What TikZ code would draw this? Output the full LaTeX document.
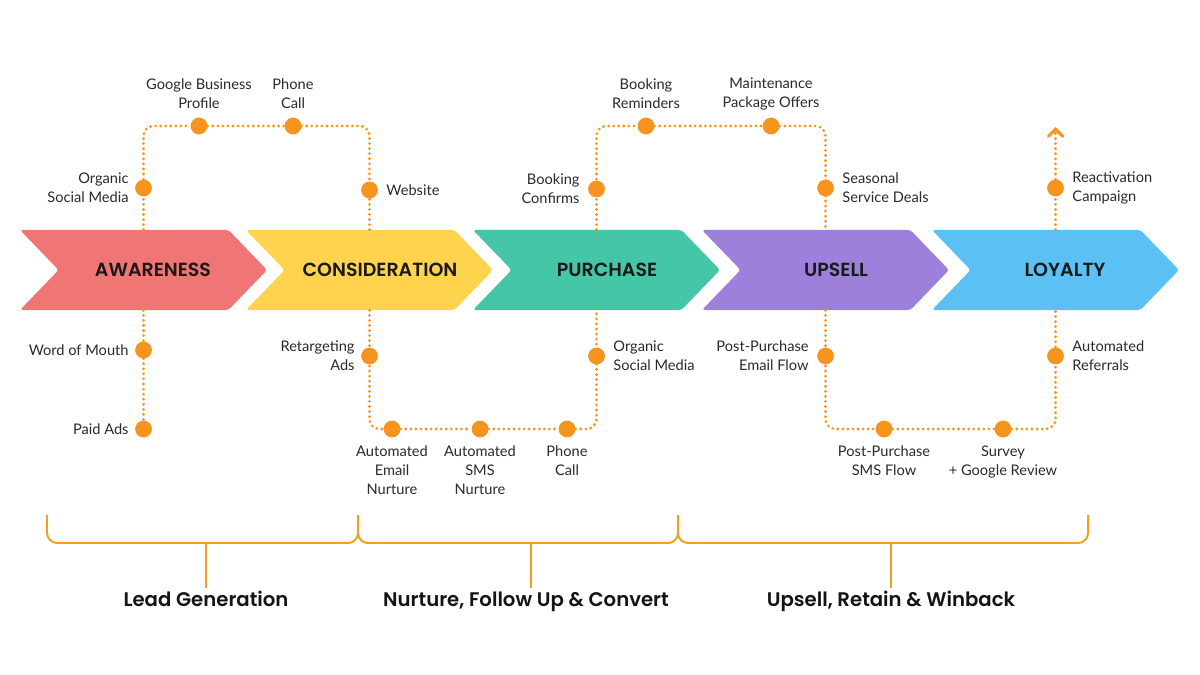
\documentclass[tikz,border=0pt]{standalone}
\usepackage{fontspec}
\setmainfont{Lato}
\newfontfamily\headfont{Poppins}[BoldFont={Poppins SemiBold}]
\usetikzlibrary{positioning}
\usetikzlibrary{shapes,arrows}

\definecolor{awarecol}{HTML}{F07575}
\definecolor{considcol}{HTML}{FFD34E}
\definecolor{purchcol}{HTML}{45C6A7}
\definecolor{upsellcol}{HTML}{9D80DB}
\definecolor{loyalcol}{HTML}{5BC1F4}
\definecolor{dotcol}{HTML}{F7941D}
\definecolor{inkcol}{HTML}{2A2A2A}

\tikzset{
  stage/.style={signal, signal to=east, signal from=west, signal pointer angle=92,
    minimum width=6.175cm, minimum height=2cm, inner sep=0pt, rounded corners=2pt},
  stagetxt/.style={font=\headfont\bfseries\fontsize{13.5}{16}\selectfont, text=black!90},
  dot/.style={circle, fill=dotcol, minimum size=0.42cm, inner sep=0pt},
  trail/.style={dotcol, line width=2.2pt, dash pattern=on 0pt off 3.6pt,
    line cap=round, rounded corners=0.25cm},
  lbl/.style={font=\fontsize{10.4}{13.5}\selectfont, text=inkcol, inner sep=0pt},
  brace/.style={draw=dotcol!90!yellow, line width=1.4pt, rounded corners=0.25cm},
  phase/.style={font=\headfont\bfseries\fontsize{14}{17}\selectfont, text=black!92,
    inner sep=3pt, text height=10pt, text depth=3pt}
}

\begin{document}
\begin{tikzpicture}[x=0.025cm, y=-0.025cm]
    \fill[white] (0,0) rectangle (1200,675);
    \useasboundingbox (0,0) rectangle (1200,675);

    % stages
    \node[stage, fill=awarecol] (aware) at (143.5,270) {};
    \node[stage, fill=considcol] (consid) at (369.5,270) {};
    \node[stage, fill=purchcol] (purch) at (596.5,270) {};
    \node[stage, fill=upsellcol] (upsell) at (825.5,270) {};
    \node[stage, fill=loyalcol] (loyal) at (1055.5,270) {};
    \node[stagetxt] (awaretxt) at (153,270) {AWARENESS};
    \node[stagetxt] (considtxt) at (380,270) {CONSIDERATION};
    \node[stagetxt] (purchtxt) at (607,270) {PURCHASE};
    \node[stagetxt] (upselltxt) at (836,270) {UPSELL};
    \node[stagetxt] (loyaltxt) at (1065,270) {LOYALTY};

    % touchpoints
    \node[dot] (orgsoc) at (143.5,188) {};
    \node[dot] (gbp) at (199,126) {};
    \node[dot] (call) at (293,126) {};
    \node[dot] (web) at (369.5,190) {};
    \node[dot] (wom) at (143.5,350) {};
    \node[dot] (paid) at (143.5,429) {};
    \node[dot] (retarg) at (369.5,356) {};
    \node[dot] (emailn) at (392,429) {};
    \node[dot] (smsn) at (480,429) {};
    \node[dot] (callb) at (567,429) {};
    \node[dot] (orgsocb) at (596.5,356) {};
    \node[dot] (bookc) at (596.5,189) {};
    \node[dot] (bookr) at (646,126) {};
    \node[dot] (maint) at (771,126) {};
    \node[dot] (season) at (825.5,188) {};
    \node[dot] (ppemail) at (825.5,356) {};
    \node[dot] (ppsms) at (884,429) {};
    \node[dot] (survey) at (1003,429) {};
    \node[dot] (referral) at (1055.5,356) {};
    \node[dot] (reactiv) at (1055.5,188) {};
    \coordinate (reacttop) at (1055.5,127);

    % routes
    \draw[trail] (aware.north) |- (gbp) -- (call) -| (consid.north);
    \draw[trail] (aware.south) -- (wom) -- (paid);
    \draw[trail] (consid.south) |- (emailn) -- (smsn) -- (callb) -| (purch.south);
    \draw[trail] (purch.north) |- (bookr) -- (maint) -| (upsell.north);
    \draw[trail] (upsell.south) |- (ppsms) -- (survey) -| (loyal.south);
    \draw[trail, -angle 90] (loyal.north) -- (reacttop);

    % labels
    \node[lbl, align=right, left=0.15cm of orgsoc] (orgsoclbl) {Organic\\Social Media};
    \node[lbl, align=center, above=0.22cm of gbp] (gbplbl) {Google Business\\Profile};
    \node[lbl, align=center, above=0.22cm of call] (calllbl) {Phone\\Call};
    \node[lbl, align=left, right=0.2cm of web] (weblbl) {Website};
    \node[lbl, align=right, left=0.15cm of wom] (womlbl) {Word of Mouth};
    \node[lbl, align=right, left=0.15cm of paid] (paidlbl) {Paid Ads};
    \node[lbl, align=right, left=0.15cm of retarg] (retarglbl) {Retargeting\\Ads};
    \node[lbl, align=center, below=0.2cm of emailn] (emailnlbl) {Automated\\Email\\Nurture};
    \node[lbl, align=center, below=0.2cm of smsn] (smsnlbl) {Automated\\SMS\\Nurture};
    \node[lbl, align=center, below=0.2cm of callb] (callblbl) {Phone\\Call};
    \node[lbl, align=left, right=0.2cm of orgsocb] (orgsocblbl) {Organic\\Social Media};
    \node[lbl, align=right, left=0.2cm of bookc] (bookclbl) {Booking\\Confirms};
    \node[lbl, align=center, above=0.22cm of bookr] (bookrlbl) {Booking\\Reminders};
    \node[lbl, align=center, above=0.17cm of maint] (maintlbl) {Maintenance\\Package Offers};
    \node[lbl, align=left, right=0.2cm of season] (seasonlbl) {Seasonal\\Service Deals};
    \node[lbl, align=right, left=0.2cm of ppemail] (ppemaillbl) {Post-Purchase\\Email Flow};
    \node[lbl, align=center, below=0.2cm of ppsms] (ppsmslbl) {Post-Purchase\\SMS Flow};
    \node[lbl, align=center, below=0.2cm of survey] (surveylbl) {Survey\\+ Google Review};
    \node[lbl, align=left, right=0.2cm of referral] (referrallbl) {Automated\\Referrals};
    \node[lbl, align=left, right=0.2cm of reactiv] (reactivlbl) {Reactivation\\Campaign};

    % phases
    \node[phase] (leadgen) at (206,602) {Lead Generation};
    \node[phase] (nurture) at (526,602) {Nurture, Follow Up \& Convert};
    \node[phase] (retain) at (891,602) {Upsell, Retain \& Winback};
    \coordinate (br1) at (206,543);
    \coordinate (br2) at (531,543);
    \coordinate (br3) at (891,543);
    \draw[brace] (47,515) -- (47,543) -- (358,543) -- (358,515);
    \draw[brace] (358,515) -- (358,543) -- (678,543) -- (678,515);
    \draw[brace] (678,515) -- (678,543) -- (1088,543) -- (1088,515);
    \draw[brace] (br1) -- (leadgen.north);
    \draw[brace] (br2) -- (br2 |- nurture.north);
    \draw[brace] (br3) -- (retain.north);
\end{tikzpicture}
\end{document}
